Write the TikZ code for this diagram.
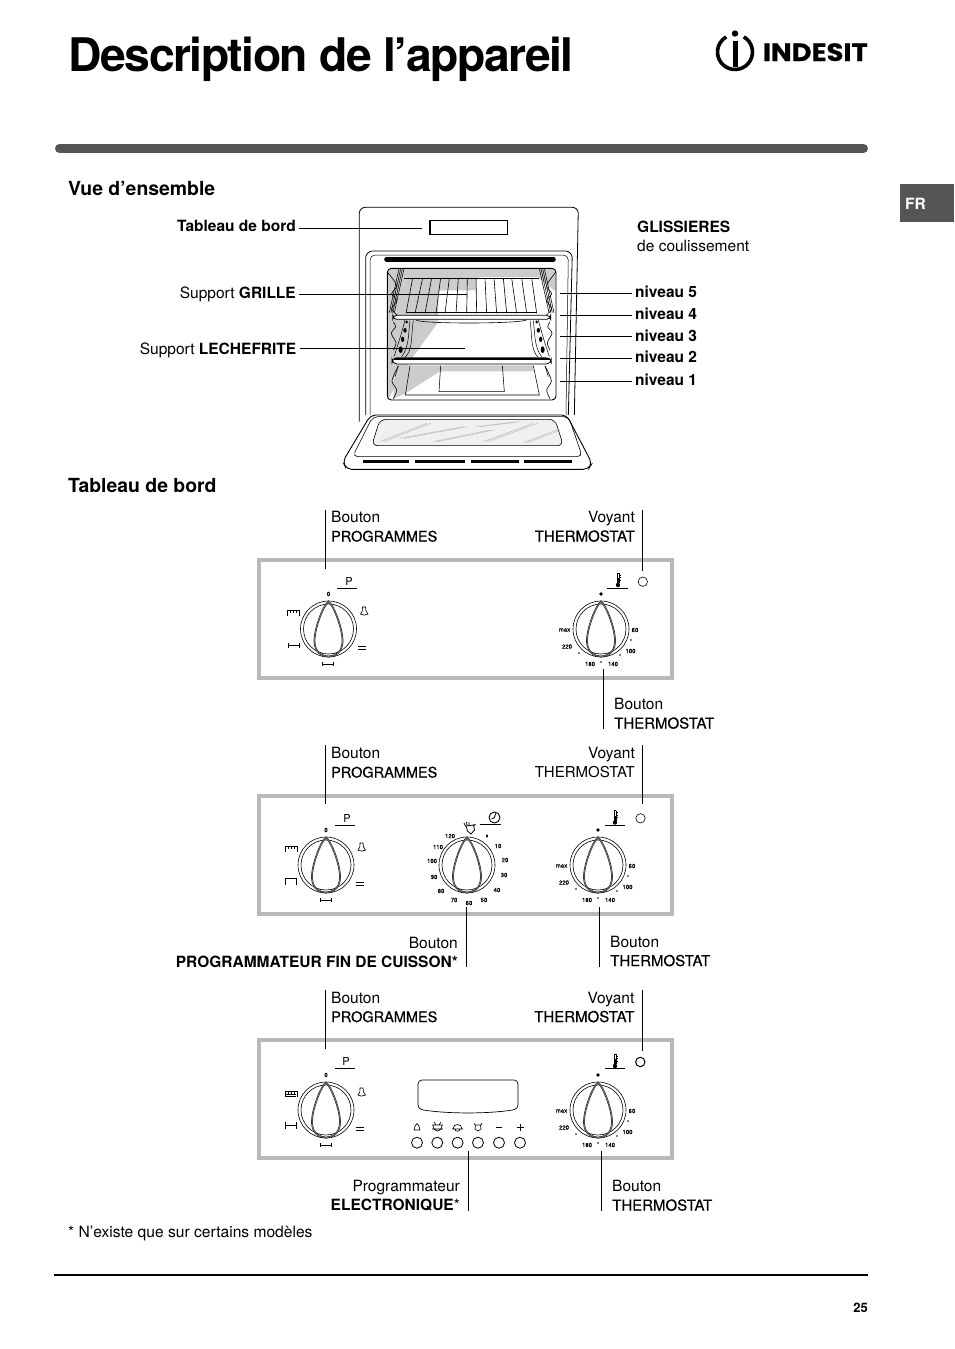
\documentclass[tikz,border=0pt]{standalone}
\usepackage{fontspec}
\setmainfont{TeX Gyre Heros}
\newfontfamily\fakeb[FakeBold=0.5]{TeX Gyre Heros}
\newfontfamily\tinyf[FakeBold=0.25]{TeX Gyre Heros}
\newfontfamily\titlef[LetterSpace=-3.2,BoldFont={TeX Gyre Heros Bold}]{TeX Gyre Heros}
\newfontfamily\logof[FakeBold=0.6]{Poppins}
\definecolor{bargray}{HTML}{555555}
\definecolor{panelgray}{HTML}{B9B9B9}
\definecolor{shadegray}{HTML}{CCCCCC}
\newcommand{\fs}[1]{\fontsize{#1}{19}\selectfont}
\newcommand{\progt}{{\fakeb\fs{14.5}PROGRAMMES}}
\newcommand{\thert}{{\fakeb\fs{15}THERMOSTAT}}
\tikzset{
 lead/.style={draw=black,line width=0.7pt},
 lbl/.style={inner sep=0pt,font=\fs{15.5},align=left,anchor=west},
 lblr/.style={inner sep=0pt,font=\fs{15.5},align=right,anchor=east},
 niv/.style={inner sep=0pt,font=\fs{15.5}\bfseries,anchor=west},
 head/.style={inner sep=0pt,font=\fs{19.4}\bfseries,anchor=base west},
 panel/.style={draw=panelgray,line width=4pt,fill=white},
 tiny/.style={inner sep=0pt,font=\fs{6}\tinyf},
 sym/.style={line width=0.65pt},
 ring/.style={line width=0.6pt},
 knobline/.style={draw=black!85,line width=0.6pt,double=black!45,double distance=0.5pt},
 dial/.pic={
  \draw[ring] (0,0) circle[radius=28];
  \draw[ring] (0,0) circle[radius=25];
  \draw[knobline] (0,-27.5) .. controls (-5,-24) and (-14.5,0) .. (-14,13)
     .. controls (-13.5,24) and (-6,27.5) .. (0,27.5)
     .. controls (6,27.5) and (13.5,24) .. (14,13)
     .. controls (14.5,0) and (5,-24) .. (0,-27.5) -- cycle;
 },
 progsym/.pic={
  \node[tiny] (-zero) at (0,-35) {0};
  \draw[sym] (-41,-19) -- (-41,-13) (-29,-19) -- (-29,-13) (-41,-18.5) -- (-29,-18.5)
     (-38,-18.5) -- (-38,-16.5) (-35,-18.5) -- (-35,-16.5) (-32,-18.5) -- (-32,-16.5);
  \draw[sym] (34,-22) -- (37,-22) -- (37.5,-18) -- (39.5,-15) .. controls (37,-13.5) and (34,-13.5) .. (32,-15) -- (33.8,-18) -- cycle;
  \draw[sym] (-6,33) -- (-6,37) (5,33) -- (5,37) (-6,35) -- (5,35);
  \draw[sym] (29.5,17) -- (37.5,17) (29.5,20.5) -- (37.5,20.5);
 },
 thermosym/.pic={
  \fill (0,-35) circle[radius=1.9];
  \node[tiny] (-a) at (-36.5,1) {max};
  \node[tiny] (-b) at (34,1) {60};
  \node[tiny] (-c) at (-34,17.5) {220};
  \node[tiny] (-d) at (29.5,22) {100};
  \node[tiny] (-e) at (-11,35) {180};
  \node[tiny] (-f) at (12,35) {140};
  \fill (-22,24) circle[radius=.9] (30,11) circle[radius=.9] (19,26) circle[radius=.9] (0,33) circle[radius=.9];
 },
 thermometer/.pic={
  \draw[line width=0.55pt] (-1.2,-7) -- (-1.2,3) (1.2,-7) -- (1.2,3) (-1.2,-7) -- (1.2,-7);
  \draw[line width=0.55pt] (1.2,-5) -- (3,-5) (1.2,-2.5) -- (3,-2.5) (1.2,0) -- (3,0);
  \fill (0,-2) rectangle (0.6,3);
  \fill (0,5) circle[radius=2.2];
 },
 bellicon/.pic={
  \draw[sym] (-3,3) .. controls (-2,0) and (-2,-3) .. (0,-3.5) .. controls (2,-3) and (2,0) .. (3,3) -- cycle;
 },
}
\newcommand{\ovenside}{
 \foreach \dx in {0,5,10,15}{
  \draw[line width=0.55pt] (207+\dx,206) -- (178+\dx,338);
 }
 \draw[line width=0.6pt] plot[smooth] coordinates {(172,216) (200,256) (185,281) (200,301) (185,326) (200,344)};
 \draw[line width=0.6pt] plot[smooth] coordinates {(190,366) (197,380) (184,400) (198,428) (190,450)};
 \draw[line width=0.6pt] plot[smooth] coordinates {(205,498) (194,520) (186,545) (200,570) (190,596)};
 \draw[line width=0.5pt] (205,497) -- (195,530);
 \fill (230,366) ellipse[x radius=4,y radius=5] (225,391) ellipse[x radius=5,y radius=7]
       (218,418) ellipse[x radius=5,y radius=8] (212,449) ellipse[x radius=6,y radius=10];
 \draw[line width=0.5pt] (240,362) .. controls (235,400) and (238,440) .. (215,470);
 \draw[line width=0.5pt] (250,362) .. controls (243,400) and (250,450) .. (225,472);
 \draw[line width=0.5pt] (225,360) .. controls (215,400) and (205,430) .. (192,470);
}
\begin{document}
\begin{tikzpicture}[x=1pt,y=-1pt]
\useasboundingbox (0,0) rectangle (954,1349);
% header
\node[inner sep=0pt,anchor=base west,font=\fs{46.3}\titlef\bfseries] (title) at (68.3,71) {Description de l’appareil};
\draw[bargray,line width=9pt,line cap=round] (59.5,148.5) -- (863.5,148.5);
\fill[bargray] (900,184) rectangle (954,222);
\node[inner sep=0pt,font=\fs{15.5}\bfseries,text=white] (fr) at (915.5,203.5) {FR};
% logo
\draw[line width=3.6pt] (743.75,36.85) arc[start angle=-60,end angle=240,radius=17.5];
\fill (735,33.5) circle[radius=3.2];
\draw[line width=5pt] (735,41) -- (735,67);
\node[inner sep=0pt,anchor=base east,font=\fs{25}\logof\bfseries] (logo) at (868,61) {\scalebox{1.1}[1]{INDESIT}};
% section heads
\node[head] (vue) at (68,195) {Vue d’ensemble};
\node[head] (tdb) at (68,492) {Tableau de bord};
% oven
\begin{scope}[shift={(330,200)},scale=0.33333]
 \draw[line width=0.8pt,rounded corners=6pt] (88,665) -- (88,22) -- (745,22) -- (733,645);
 \draw[line width=0.8pt,rounded corners=7pt] (107,645) -- (107,153) -- (727,153) -- (715,645);
 \draw[line width=0.5pt,rounded corners=5pt] (120,645) -- (120,165) -- (715,165) -- (708,645);
 \draw[line width=1.2pt] (300,62) rectangle (532,103);
 \draw[line width=5pt,line cap=round] (170,177) -- (670,177);
 \fill[shadegray,rounded corners=3pt] (172,206) -- (677,206) -- (677,276) -- (625,231) -- (440,231) -- (440,271) -- (325,271) -- (325,366) -- (245,476) -- (175,596) -- (172,596) -- cycle;
 \fill[shadegray] (195,496) -- (610,496) -- (610,514) -- (330,514) -- (225,581) -- (190,596) -- cycle;
 \draw[line width=0.9pt,rounded corners=4pt] (172,205) rectangle (678,600);
 \ovenside
 \begin{scope}[shift={(850,0)},xscale=-1]\ovenside\end{scope}
 % grid shelf
 \draw[line width=0.6pt] (222,234) -- (628,234);
 \foreach \a/\b in {248/228,278/255,305/285,332/318,358/345,385/378,412/410,438/440,465/470,492/500,520/530,545/560,575/590,605/620}{
  \draw[line width=0.6pt] (\a,234) -- (\b,340);
 }
 \draw[line width=1.1pt] (228,338) -- (622,338);
 \draw[line width=0.8pt,fill=white,rounded corners=4pt] (188,346) -- (662,346) -- (662,358) -- (188,358) -- cycle;
 % tray
 \draw[line width=0.6pt] (258,360) .. controls (270,372) and (560,372) .. (590,360);
 \draw[line width=0.8pt,fill=white,rounded corners=5pt] (186,473) -- (664,473) -- (664,492) -- (186,492) -- cycle;
 \draw[line width=1.1pt] (192,477) -- (660,477);
 % floor
 \draw[line width=0.55pt] (240,497) -- (226,585) -- (628,585) -- (610,497);
 \draw[line width=0.55pt] (332,497) -- (327,575) -- (523,575) -- (517,497);
 % door
 \draw[line width=0.9pt,rounded corners=5pt,fill=white] (122,645) -- (710,645) -- (786,790) -- (775,808) -- (50,808) -- (38,785) -- cycle;
 \draw[line width=0.6pt,rounded corners=5pt] (128,650) -- (716,650) -- (757,770) -- (68,770) -- cycle;
 \draw[line width=0.6pt,fill=black!6,rounded corners=6pt] (150,658) -- (675,658) -- (700,737) -- (125,737) -- cycle;
 \foreach \xa/\ya/\xb/\yb in {150/725/290/670, 210/715/400/680, 310/725/480/690, 440/680/560/665, 460/725/610/670, 580/728/680/690}{
  \draw[black!35,line width=0.3pt] (\xa,\ya) -- (\xb,\yb);
  \draw[black!35,line width=0.3pt] (\xa+12,\ya) -- (\xb+12,\yb);
 }
 \foreach \xa/\xb in {100/238,256/405,424/567,583/725}{
  \draw[line width=2.4pt] (\xa,785) -- (\xb,785);
 }
\end{scope}
% overview labels
\node[lblr,font=\fs{15.5}\bfseries] (l1) at (296,226) {Tableau de bord};
\node[lblr] (l2) at (296,294) {Support \textbf{GRILLE}};
\node[lblr] (l3) at (296.5,350) {Support \textbf{LECHEFRITE}};
\coordinate (e1) at (421.5,228);
\coordinate (e2) at (466.5,294);
\coordinate (e3) at (465,348.5);
\draw[lead] (l1.east)++(3,2) -- (e1);
\draw[lead] (l2.east)++(3,0) -- (e2);
\draw[lead] (l3.east)++(3,-1.5) -- (e3);
\node[lbl] (gl) at (637,236.5) {\textbf{GLISSIERES}\\de coulissement};
\foreach \i/\y in {5/292,4/314,3/336,2/357,1/380}{
 \node[niv] (n\i) at (635,\y) {niveau \i};
}
\foreach \i/\y in {5/293.5,4/315,3/336,2/358.5,1/381}{
 \coordinate (m\i) at (560,\y);
 \draw[lead] (m\i) -- (632,\y);
}
% panel 1
\draw[panel] (259,560) rectangle (672,678);
\pic (d1a) at (328.5,629) {dial}; \pic (s1a) at (328.5,629) {progsym};
\draw[sym] (288,643) -- (288,648) (299,643) -- (299,648) (288,645) -- (299,645);
\pic (d1b) at (601,629) {dial}; \pic (s1b) at (601,629) {thermosym};
\node[inner sep=0pt,font=\fs{11}] (p1) at (349,581) {P};
\draw[sym] (337,588.5) -- (357,588.5);
\pic (t1) at (618,580) {thermometer};
\draw[sym] (607,588.5) -- (628,588.5);
\node[circle,draw,line width=.6pt,minimum size=9.4pt,inner sep=0pt] (led1) at (642.8,581.7) {};
\node[lbl] (a1) at (331,526.5) {Bouton\\\progt};
\node[lblr] (b1) at (635,526.5) {Voyant\\\thert};
\node[lbl] (c1) at (614,713.5) {Bouton\\\thert};
\coordinate (a1t) at (325,510); \coordinate (a1b) at (325,569);
\coordinate (b1t) at (642.5,510); \coordinate (b1b) at (642.5,571);
\coordinate (c1t) at (603.5,669); \coordinate (c1b) at (603.5,729);
\draw[lead] (a1t) -- (a1b); \draw[lead] (b1t) -- (b1b); \draw[lead] (c1t) -- (c1b);
% panel 2
\draw[panel] (259,796) rectangle (672,914);
\pic (d2a) at (326,865) {dial}; \pic (s2a) at (326,865) {progsym};
\draw[sym] (285,878) -- (285,885) (296,878) -- (296,885) (285,878) -- (296,878);
\pic (d2c) at (467,865) {dial};
\pic (d2b) at (598,865) {dial}; \pic (s2b) at (598,865) {thermosym};
\node[inner sep=0pt,font=\fs{11}] (p2) at (347,818) {P};
\draw[sym] (335,825) -- (355,825);
\pic (t2) at (615,817.5) {thermometer};
\draw[sym] (605,825) -- (625,825);
\node[circle,draw,line width=.6pt,minimum size=9.4pt,inner sep=0pt] (led2) at (640.5,818.3) {};
\foreach \n/\x/\y in {120/450/836,110/438/847,100/432/861,90/434/877,80/441/891,70/454/900,60/469/903,50/484/900,40/497/890,30/504/875,20/505/860,10/498/846}{
 \node[tiny] (tm\n) at (\x,\y) {\n};
}
\fill (487,836) ellipse[x radius=1.1,y radius=1.9];
\draw[line width=.9pt] (494.5,817.5) circle[radius=5.5] (494.5,817.5) -- (495.5,813.5) (494.5,817.5) -- (491.5,819);
\draw[sym] (480,824.5) -- (501,824.5);
\draw[line width=.8pt] (466,826) -- (473.5,825) -- (474.5,830) -- (471,834) -- (467.5,831) -- cycle (465.5,826) -- (464,823) (467,825) -- (466.5,822) (469,825) -- (469,822) (473.5,826) -- (475.5,824);
\node[lbl] (a2) at (331,762.5) {Bouton\\\progt};
\node[lblr] (b2) at (635,762.5) {Voyant\\{\fs{15}THERMOSTAT}};
\node[lblr] (e2l) at (458,952) {Bouton\\\textbf{PROGRAMMATEUR FIN DE CUISSON*}};
\node[lbl] (c2) at (610,951) {Bouton\\\thert};
\coordinate (a2t) at (325,745); \coordinate (a2b) at (325,804);
\coordinate (b2t) at (642.5,745); \coordinate (b2b) at (642.5,804);
\coordinate (e2t) at (466.5,907); \coordinate (e2b) at (466.5,967);
\coordinate (c2t) at (599.5,907); \coordinate (c2b) at (599.5,967);
\draw[lead] (a2t) -- (a2b); \draw[lead] (b2t) -- (b2b); \draw[lead] (e2t) -- (e2b); \draw[lead] (c2t) -- (c2b);
% panel 3
\draw[panel] (259,1040) rectangle (672,1158);
\pic (d3a) at (326,1110) {dial}; \pic (s3a) at (326,1110) {progsym};
\draw[sym] (285,1096.5) -- (296,1096.5) (285,1094) -- (296,1094);
\draw[sym] (285,1122) -- (285,1129) (296,1122) -- (296,1129) (285,1125) -- (296,1125);
\pic (d3b) at (598,1110) {dial}; \pic (s3b) at (598,1110) {thermosym};
\node[inner sep=0pt,font=\fs{11}] (p3) at (346,1061.5) {P};
\draw[sym] (335,1068.5) -- (355,1068.5);
\pic (t3) at (615,1061) {thermometer};
\draw[sym] (605,1068.5) -- (625,1068.5);
\node[circle,draw,line width=1pt,minimum size=9.4pt,inner sep=0pt] (led3) at (640.3,1062) {};
\draw[line width=.7pt,rounded corners=4pt] (418,1080) -- (518,1080) -- (518,1109) .. controls (490,1114) and (446,1114) .. (418,1109) -- cycle;
\foreach \n/\x in {1/417,2/437.3,3/457.6,4/478,5/499,6/520}{
 \node[circle,draw,line width=.8pt,minimum size=11pt,inner sep=0pt] (bt\n) at (\x,1142.7) {};
}
\pic (ic1) at (417,1127) {bellicon};
\draw[sym] (432,1125) -- (443,1125) (432,1129) -- (443,1129) (433,1125) .. controls (433,1133) and (442,1133) .. (442,1125) (434,1122) -- (436,1125) (441,1122) -- (439,1125);
\draw[sym] (452,1129) -- (463,1129) (453,1129) .. controls (453,1123) and (462,1123) .. (462,1129) (455,1129) .. controls (455,1132) and (460,1132) .. (460,1129);
\draw[sym] (475.5,1125) -- (480.5,1125) -- (481,1129) -- (478,1131) -- (475,1129) -- cycle (475,1125) -- (474,1123) (481,1125) -- (482,1123);
\draw[line width=.7pt] (496,1127) -- (502,1127) (516.5,1127) -- (523.5,1127) (520,1123.5) -- (520,1130.5);
\node[lbl] (a3) at (331,1007) {Bouton\\\progt};
\node[lblr] (b3) at (634.5,1007) {Voyant\\\thert};
\node[lblr] (e3l) at (460,1196) {Programmateur\\\textbf{ELECTRONIQUE}*};
\node[lbl] (c3) at (612,1195.5) {Bouton\\\thert};
\coordinate (a3t) at (325,990); \coordinate (a3b) at (325,1049);
\coordinate (b3t) at (642.5,990); \coordinate (b3b) at (642.5,1051);
\coordinate (e3t) at (468,1151); \coordinate (e3b) at (468,1211);
\coordinate (c3t) at (601.5,1151); \coordinate (c3b) at (601.5,1211);
\draw[lead] (a3t) -- (a3b); \draw[lead] (b3t) -- (b3b); \draw[lead] (e3t) -- (e3b); \draw[lead] (c3t) -- (c3b);
% footer
\node[inner sep=0pt,anchor=base west,font=\fs{15.6}] (fn) at (68,1237) {* N’existe que sur certains modèles};
\coordinate (fl) at (54,1275); \coordinate (fr2) at (868,1275);
\draw[line width=1.3pt] (fl) -- (fr2);
\node[inner sep=0pt,anchor=base east,font=\fs{13}\bfseries] (pg) at (868,1312) {25};
\end{tikzpicture}
\end{document}
